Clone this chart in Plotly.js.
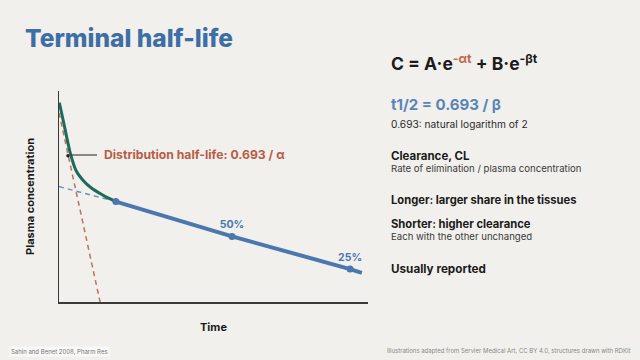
<!DOCTYPE html>
<html><head><meta charset="utf-8">
<script src="https://cdn.plot.ly/plotly-3.0.1.min.js"></script>
<style>html,body{margin:0;padding:0;background:#f1f0ec;}#chart{width:640px;height:360px;}</style>
</head><body><div id="chart"></div>
<script>
// --- data (schematic units) ---
const distTime = [0.01, 0.14, 0.36, 0.55, 0.79, 1.05, 1.33, 1.6, 1.84];
const distConc = [9.45, 8.58, 7.09, 6.23, 5.75, 5.40, 5.14, 4.92, 4.76];
const termTime = [1.84, 5.6, 9.42, 9.8];
const termConc = [4.76, 3.11, 1.56, 1.38];
const extrapTime = [0, 1.84];
const extrapConc = [5.47, 4.76];
const alphaTime = [0, 1.33];
const alphaConc = [8.96, 0];
const junctionTime = [1.84];
const junctionConc = [4.76];
const pctTime = [5.6, 9.42];
const pctConc = [3.11, 1.56];
const pctLabels = ['50%', '25%'];
const labelPoint = {t: 0.29, c: 6.93};

// --- layout helpers (pixel -> paper) ---
const L = 59, R = 368, T = 91, B = 302;
const px = x => (x - L) / (R - L);
const py = y => (B - y) / (B - T);

const FONT = 'Inter, "Open Sans", sans-serif';
const blue = '#4a77ae', green = '#1d6b58', red = '#b85d48';

const traces = [
  {x: alphaTime, y: alphaConc, mode: 'lines', line: {color: '#b8735f', width: 1.5, dash: '5px,4px'}},
  {x: extrapTime, y: extrapConc, mode: 'lines', line: {color: '#6f91bd', width: 1.5, dash: '5px,4px'}},
  {x: distTime, y: distConc, mode: 'lines', line: {color: green, width: 3, shape: 'spline', smoothing: 0.8}},
  {x: termTime, y: termConc, mode: 'lines', line: {color: blue, width: 4}},
  {x: junctionTime, y: junctionConc, mode: 'markers', marker: {color: blue, size: 7}},
  {x: pctTime, y: pctConc, mode: 'markers+text', text: pctLabels, textposition: 'top center',
   textfont: {family: FONT, size: 10.5, color: blue, weight: 700},
   marker: {color: blue, size: 7}},
  {x: [labelPoint.t], y: [labelPoint.c], mode: 'markers', marker: {color: '#222', size: 3.5}}
];

const ann = [];
const add = (text, x, y, size, color, weight, extra) => ann.push(Object.assign({
  text, xref: 'paper', yref: 'paper', x: px(x), y: py(y), xanchor: 'left', yanchor: 'middle',
  showarrow: false, font: {family: FONT, size, color, weight}}, extra || {}));

add('Distribution half-life: 0.693 / α', 102, 154, 12.2, red, 700);
add('C = A·e<sup><span style="color:#c0684f">-αt</span></sup> + B·e<sup>-βt</sup>', 389, 63, 17.5, '#1b1b1b', 700);
add('t1/2 = 0.693 / β', 389, 104, 15, '#5a84b8', 700);
add('0.693: natural logarithm of 2', 389, 124, 10.2, '#2a2a2a', 400);
add('Clearance, CL', 389, 156, 11.5, '#1b1b1b', 700);
add('Rate of elimination / plasma concentration', 389, 168.5, 9.6, '#3a3a3a', 400);
add('Longer: larger share in the tissues', 389, 200, 11.2, '#1b1b1b', 700);
add('Shorter: higher clearance', 389, 224, 11.2, '#1b1b1b', 700);
add('Each with the other unchanged', 389, 236.5, 9.6, '#3a3a3a', 400);
add('Usually reported', 389, 269, 11.7, '#1b1b1b', 700);
add('Sahin and Benet 2008, Pharm Res', 9, 351, 6, '#777', 400, {bgcolor: '#f8f8f6'});
add('Illustrations adapted from Servier Medical Art, CC BY 4.0, structures drawn with RDKit', 632, 351, 6, '#888', 400, {xanchor: 'right'});

const layout = {
  width: 640, height: 360,
  margin: {l: L, r: 640 - R, t: T, b: 360 - B, pad: 0},
  paper_bgcolor: '#f1f0ec', plot_bgcolor: 'rgba(0,0,0,0)',
  showlegend: false, hovermode: false,
  title: {text: 'Terminal half-life', x: 25 / 640, xref: 'container', xanchor: 'left',
          y: 1 - 38 / 360, yref: 'container', yanchor: 'middle',
          font: {family: FONT, size: 24.5, color: '#3e6ea6', weight: 800}},
  xaxis: {range: [0, 10], showgrid: false, zeroline: false, showticklabels: false, ticks: '',
          showline: true, linecolor: '#3a3a3a', linewidth: 1.5,
          title: {text: 'Time', standoff: 21, font: {family: FONT, size: 11, color: '#1b1b1b', weight: 700}}},
  yaxis: {range: [0, 10], showgrid: false, zeroline: false, showticklabels: false, ticks: '',
          showline: true, linecolor: '#3a3a3a', linewidth: 1.5,
          title: {text: 'Plasma concentration', standoff: 20, font: {family: FONT, size: 11, color: '#1b1b1b', weight: 700}}},
  annotations: ann,
  shapes: [{type: 'line', xref: 'paper', yref: 'paper', x0: px(70), x1: px(97), y0: py(155), y1: py(155),
            line: {color: '#444', width: 1.2}}]
};

Plotly.newPlot('chart', traces, layout, {staticPlot: true, displayModeBar: false});
</script></body></html>
